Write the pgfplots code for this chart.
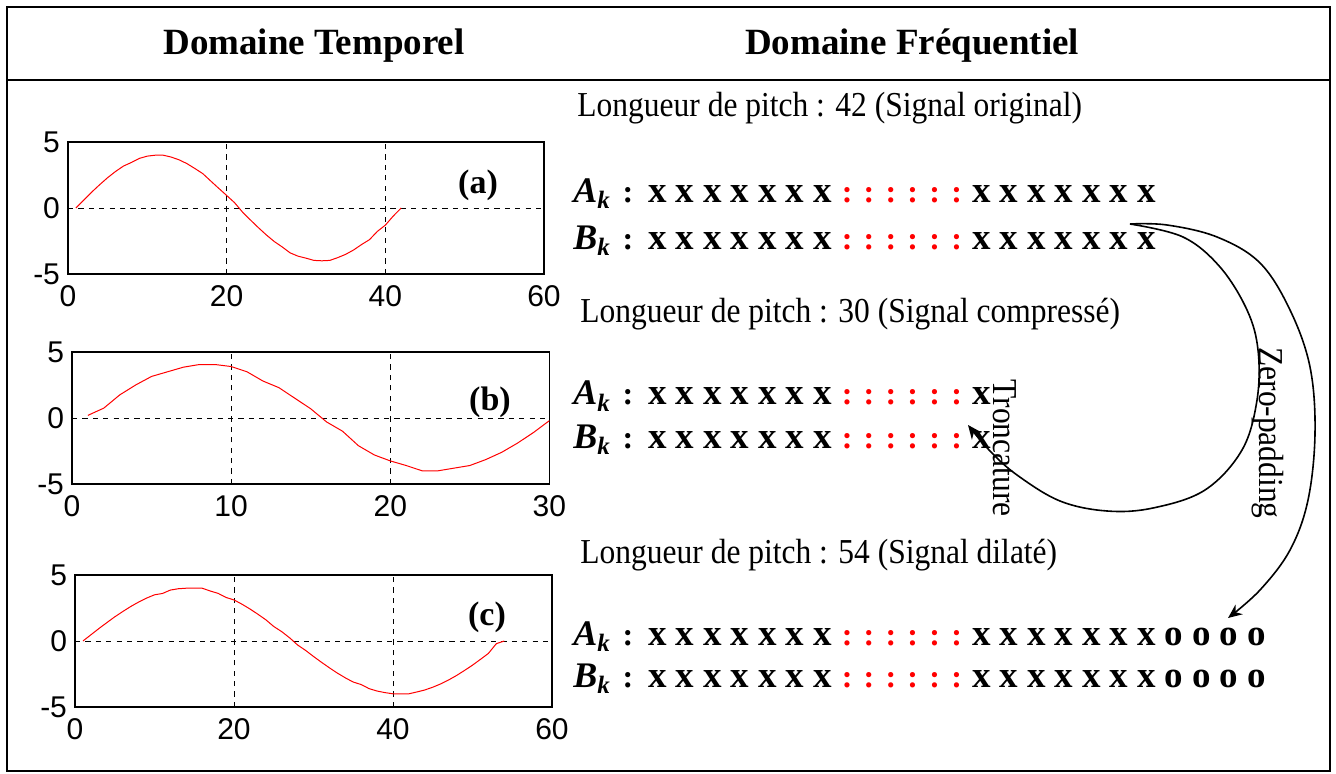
\documentclass[border=0pt]{standalone}
\usepackage{fontspec}
\setmainfont{Liberation Serif}
\newfontfamily\arialf{Liberation Sans}
\newfontfamily\bodyf[FakeStretch=0.9]{Liberation Serif}
\usepackage{pgfplots}
\pgfplotsset{compat=1.18}
\usetikzlibrary{arrows.meta}

\pgfplotsset{
  minisig/.style={
    scale only axis, width=238pt, height=66pt, anchor=north west,
    xmin=0, ymin=-5, ymax=5,
    ytick={-5,0,5}, yticklabels={-5,0,5},
    xmajorgrids, ymajorgrids,
    major grid style={black, dash pattern=on 2.6pt off 2.6pt, line width=0.45pt},
    major tick length=0pt,
    axis line style={line width=0.6pt},
    tick label style={font=\arialf\fontsize{15}{15}\selectfont},
    xticklabel style={yshift=-2pt},
    yticklabel style={xshift=-0.5pt},
  },
  sig/.style={red, line width=0.5pt, mark=none},
}

\newcommand\X{\makebox[13.75pt]{x}}
\newcommand\Ob{\makebox[13.75pt]{o}}
\newcommand\C{\makebox[10.95pt]{\fontsize{16}{16}\selectfont\color{red}:}}
\newcommand\rowfont{\bfseries\fontsize{18.5}{18.5}\selectfont}
\newcommand\AK[1]{{\bfseries\itshape\fontsize{18}{18}\selectfont #1\raisebox{-3pt}{\fontsize{12.5}{12.5}\selectfont k}}}

\begin{document}
\begin{tikzpicture}
\useasboundingbox (0,0) rectangle (668pt,-387pt);

% ---------- plot (a)
\begin{axis}[minisig, at={(34pt,-71pt)}, width=238pt, xmax=60, xtick={0,20,40,60}, xticklabels={0,20,40,60}]
\addplot[sig] coordinates {(1,0) (2,0.61) (3,1.21) (4,1.77) (5,2.30) (6,2.77) (7,3.18) (8,3.45) (9,3.76) (10,3.93) (11,4.00) (12,4.00) (13,3.86) (14,3.65) (15,3.36) (16,2.99) (17,2.60) (18,2.04) (19,1.49) (20,0.95) (21,0.40) (22,-0.31) (23,-0.91) (24,-1.49) (25,-2.04) (26,-2.54) (27,-2.95) (28,-3.40) (29,-3.65) (30,-3.80) (31,-3.97) (32,-4.00) (33,-3.97) (34,-3.76) (35,-3.51) (36,-3.18) (37,-2.77) (38,-2.40) (39,-1.77) (40,-1.30) (41,-0.61) (42,0)};
\end{axis}
\node[font=\bfseries\fontsize{17}{17}\selectfont, inner sep=0] at (239pt,-92.5pt) {(a)};

% ---------- plot (b)
\begin{axis}[minisig, at={(36pt,-176pt)}, width=238.7pt, xmax=30, xtick={0,10,20,30}, xticklabels={0,10,20,30}]
\addplot[sig] coordinates {(1,0.2) (2,0.75) (3,1.75) (4,2.5) (5,3.15) (6,3.5) (7,3.85) (8,4.05) (9,4.05) (10,3.9) (11,3.5) (12,2.8) (13,2.3) (14,1.5) (15,0.7) (16,-0.3) (17,-1.0) (18,-2.1) (19,-2.8) (20,-3.25) (21,-3.6) (22,-4.0) (23,-4.0) (24,-3.8) (25,-3.6) (26,-3.15) (27,-2.6) (28,-1.9) (29,-1.1) (30,-0.2)};
\end{axis}
\node[font=\bfseries\fontsize{17}{17}\selectfont, inner sep=0] at (245pt,-201pt) {(b)};

% ---------- plot (c)
\begin{axis}[minisig, at={(37.5pt,-287.5pt)}, width=238.5pt, xmax=60, xtick={0,20,40,60}, xticklabels={0,20,40,60}]
\addplot[sig] coordinates {(1,0) (2,0.47) (3,0.94) (4,1.39) (5,1.83) (6,2.23) (7,2.61) (8,2.95) (9,3.25) (10,3.50) (11,3.60) (12,3.86) (13,3.96) (14,4.00) (15,4.00) (16,4.00) (17,3.79) (18,3.61) (19,3.30) (20,3.11) (21,2.79) (22,2.43) (23,2.03) (24,1.61) (25,1.10) (26,0.71) (27,0.24) (28,-0.30) (29,-0.71) (30,-1.17) (31,-1.61) (32,-2.03) (33,-2.43) (34,-2.79) (35,-3.11) (36,-3.30) (37,-3.61) (38,-3.79) (39,-3.91) (40,-4.00) (41,-4.00) (42,-4.00) (43,-3.86) (44,-3.71) (45,-3.50) (46,-3.25) (47,-2.95) (48,-2.61) (49,-2.23) (50,-1.83) (51,-1.39) (52,-0.94) (53,-0.20) (54,0)};
\end{axis}
\node[font=\bfseries\fontsize{17}{17}\selectfont, inner sep=0] at (243.5pt,-308.5pt) {(c)};

% ---------- frame, texts, arrows (pixel coordinates)
\begin{scope}[x=0.5pt,y=-0.5pt]
\draw[line width=0.9pt] (7,7) rectangle (1330,771);
\draw[line width=1.4pt] (7,80) -- (1330,80);

\node[anchor=base, inner sep=0, font=\bfseries\fontsize{18.5}{18.5}\selectfont] at (314,55) {Domaine Temporel};
\node[anchor=base, inner sep=0, font=\bfseries\fontsize{18.5}{18.5}\selectfont] at (912,55) {Domaine Fréquentiel};

\node[anchor=base west, inner sep=0, font=\bodyf\fontsize{17.5}{17.5}\selectfont] at (577,117) {Longueur de pitch : 42 (Signal original)};
\node[anchor=base west, inner sep=0, font=\bodyf\fontsize{17.5}{17.5}\selectfont] at (580,323) {Longueur de pitch : 30 (Signal compressé)};
\node[anchor=base west, inner sep=0, font=\bodyf\fontsize{17.5}{17.5}\selectfont] at (580,563) {Longueur de pitch : 54 (Signal dilaté)};

% group 1
\node[anchor=base west, inner sep=0] at (573,203) {\AK{A}};
\node[anchor=base, inner sep=0, font=\bfseries] at (628,203) {\fontsize{16}{16}\selectfont:};
\node[anchor=base west, inner sep=0, font=\rowfont] at (643.25,203) {\X\X\X\X\X\X\X\C\C\C\C\C\C\X\X\X\X\X\X\X};
\node[anchor=base west, inner sep=0] at (573,250) {\AK{B}};
\node[anchor=base, inner sep=0, font=\bfseries] at (628,250) {\fontsize{16}{16}\selectfont:};
\node[anchor=base west, inner sep=0, font=\rowfont] at (643.25,250) {\X\X\X\X\X\X\X\C\C\C\C\C\C\X\X\X\X\X\X\X};

% group 2
\node[anchor=base west, inner sep=0] at (573,405) {\AK{A}};
\node[anchor=base, inner sep=0, font=\bfseries] at (628,405) {\fontsize{16}{16}\selectfont:};
\node[anchor=base west, inner sep=0, font=\rowfont] at (643.25,405) {\X\X\X\X\X\X\X\C\C\C\C\C\C\X};
\node[anchor=base west, inner sep=0] at (573,448) {\AK{B}};
\node[anchor=base, inner sep=0, font=\bfseries] at (628,448) {\fontsize{16}{16}\selectfont:};
\node[anchor=base west, inner sep=0, font=\rowfont] at (643.25,448) {\X\X\X\X\X\X\X\C\C\C\C\C\C\X};

% group 3
\node[anchor=base west, inner sep=0] at (573,645) {\AK{A}};
\node[anchor=base, inner sep=0, font=\bfseries] at (628,645) {\fontsize{16}{16}\selectfont:};
\node[anchor=base west, inner sep=0, font=\rowfont] at (643.25,645) {\X\X\X\X\X\X\X\C\C\C\C\C\C\X\X\X\X\X\X\X\Ob\Ob\Ob\Ob};
\node[anchor=base west, inner sep=0] at (573,687) {\AK{B}};
\node[anchor=base, inner sep=0, font=\bfseries] at (628,687) {\fontsize{16}{16}\selectfont:};
\node[anchor=base west, inner sep=0, font=\rowfont] at (643.25,687) {\X\X\X\X\X\X\X\C\C\C\C\C\C\X\X\X\X\X\X\X\Ob\Ob\Ob\Ob};

% arrows
\draw[line width=0.8pt, -{Stealth[length=7pt,width=6pt]}] plot[smooth, tension=0.6] coordinates {(1130,224) (1167,225) (1217,237) (1260,263) (1290,310) (1310,367) (1315,433) (1308,500) (1290,550) (1260,590) (1228,618)};
\draw[line width=0.8pt, -{Stealth[length=7pt,width=6pt]}] plot[smooth, tension=0.6] coordinates {(1130,224) (1183,237) (1220,267) (1247,310) (1258,350) (1257,400) (1242,450) (1205,490) (1153,508) (1107,511) (1060,501) (1017,475) (990,451) (968,425)};

\node[rotate=-90, inner sep=0, font=\bodyf\fontsize{17.5}{17.5}\selectfont] at (1005,448) {Troncature};
\node[rotate=-90, inner sep=0, font=\bodyf\fontsize{17.5}{17.5}\selectfont] at (1268,433) {Zero-padding};
\end{scope}
\end{tikzpicture}
\end{document}
